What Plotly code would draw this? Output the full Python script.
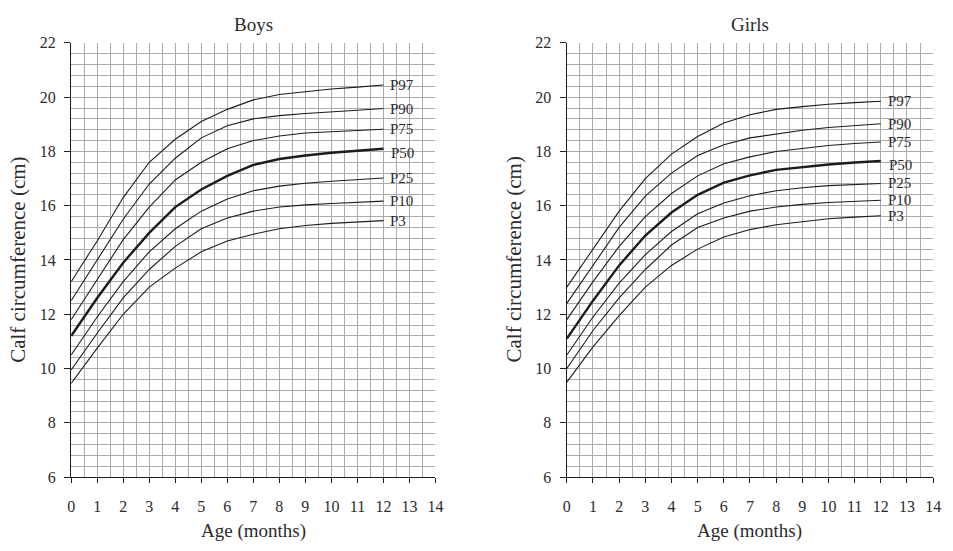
import plotly.graph_objects as go

ages = [0, 1, 2, 3, 4, 5, 6, 7, 8, 9, 10, 11, 12]
percentiles = ["P97", "P90", "P75", "P50", "P25", "P10", "P3"]

boys_p97 = [13.2, 14.7, 16.3, 17.6, 18.45, 19.1, 19.55, 19.9, 20.1, 20.2, 20.3, 20.37, 20.45]
boys_p90 = [12.5, 14.0, 15.5, 16.8, 17.75, 18.5, 18.95, 19.2, 19.32, 19.4, 19.47, 19.52, 19.58]
boys_p75 = [11.8, 13.3, 14.75, 15.95, 16.95, 17.6, 18.1, 18.4, 18.57, 18.68, 18.73, 18.77, 18.82]
boys_p50 = [11.2, 12.6, 13.9, 15.0, 15.95, 16.6, 17.1, 17.5, 17.72, 17.85, 17.95, 18.02, 18.1]
boys_p25 = [10.5, 11.9, 13.2, 14.3, 15.15, 15.8, 16.25, 16.55, 16.72, 16.83, 16.9, 16.96, 17.02]
boys_p10 = [9.95, 11.3, 12.6, 13.65, 14.5, 15.15, 15.55, 15.8, 15.95, 16.03, 16.08, 16.12, 16.17]
boys_p3 = [9.45, 10.75, 12.0, 13.0, 13.7, 14.3, 14.7, 14.95, 15.15, 15.27, 15.35, 15.4, 15.45]

girls_p97 = [13.0, 14.4, 15.8, 17.0, 17.9, 18.55, 19.05, 19.35, 19.55, 19.65, 19.74, 19.8, 19.85]
girls_p90 = [12.4, 13.8, 15.2, 16.35, 17.2, 17.85, 18.25, 18.5, 18.65, 18.78, 18.88, 18.95, 19.02]
girls_p75 = [11.8, 13.2, 14.5, 15.6, 16.45, 17.1, 17.55, 17.8, 18.0, 18.12, 18.22, 18.29, 18.35]
girls_p50 = [11.1, 12.5, 13.8, 14.9, 15.75, 16.4, 16.85, 17.12, 17.32, 17.43, 17.52, 17.59, 17.65]
girls_p25 = [10.5, 11.9, 13.15, 14.2, 15.05, 15.7, 16.1, 16.37, 16.55, 16.66, 16.74, 16.79, 16.82]
girls_p10 = [10.0, 11.4, 12.6, 13.65, 14.55, 15.2, 15.55, 15.8, 15.95, 16.05, 16.12, 16.17, 16.2]
girls_p3 = [9.5, 10.8, 11.95, 13.0, 13.8, 14.4, 14.85, 15.12, 15.3, 15.42, 15.52, 15.58, 15.63]

x_ticks = list(range(0, 15))
y_ticks = list(range(6, 23, 2))

boys = [boys_p97, boys_p90, boys_p75, boys_p50, boys_p25, boys_p10, boys_p3]
girls = [girls_p97, girls_p90, girls_p75, girls_p50, girls_p25, girls_p10, girls_p3]

FONT = "Liberation Serif"
TXT = "#2b2b2b"
LINE = "#1c1c1c"
GRID = "#ababab"

fig = go.Figure()
annotations = []
for axis_suffix, series in (("", boys), ("2", girls)):
    for name, vals in zip(percentiles, series):
        fig.add_trace(go.Scatter(
            x=ages, y=vals, mode="lines", name=name,
            xaxis="x" + axis_suffix, yaxis="y" + axis_suffix,
            line=dict(color=LINE, width=2.4 if name == "P50" else 1.1),
            showlegend=False, hoverinfo="skip"))
        annotations.append(dict(
            x=ages[-1], y=vals[-1], xref="x" + axis_suffix, yref="y" + axis_suffix,
            text=name, showarrow=False, xanchor="left", yanchor="middle",
            xshift=6 if name == "P50" else 5, yshift=-4 if name == "P50" else 0,
            font=dict(family=FONT, size=15, color=TXT)))

W, H = 953, 551
boys_dom = [68 / W, 437 / W]
girls_dom = [570 / W, 941 / W]
y_dom = [1 - 484 / H, 1 - 36 / H]

def xax(dom, anchor):
    return dict(domain=dom, anchor=anchor, range=[0, 14], tickmode="array",
                tickvals=x_ticks, ticktext=[str(t) for t in x_ticks],
                ticks="outside", ticklen=5, tickwidth=1, tickcolor=LINE,
                ticklabelstandoff=9,
                showline=True, linecolor=LINE, linewidth=1.3,
                showgrid=True, gridcolor=GRID, gridwidth=1,
                minor=dict(dtick=0.5, tick0=0, showgrid=True, gridcolor=GRID,
                           gridwidth=1, ticks=""),
                zeroline=False, fixedrange=True,
                tickfont=dict(family=FONT, size=16, color=TXT))

def yax(anchor):
    return dict(domain=y_dom, anchor=anchor, range=[6, 22], tickmode="array",
                tickvals=y_ticks, ticktext=[str(t) for t in y_ticks],
                ticks="outside", ticklen=6, tickwidth=1, tickcolor=LINE,
                ticklabelstandoff=5,
                showline=True, linecolor=LINE, linewidth=1.3,
                showgrid=True, gridcolor=GRID, gridwidth=1,
                minor=dict(dtick=0.4, tick0=6, showgrid=True, gridcolor=GRID,
                           gridwidth=1, ticks=""),
                zeroline=False, fixedrange=True,
                tickfont=dict(family=FONT, size=16, color=TXT))

for title, dom in (("Boys", boys_dom), ("Girls", girls_dom)):
    cx = (dom[0] + dom[1]) / 2
    annotations.append(dict(x=cx, y=1 - 17 / H, xref="paper", yref="paper",
                            text=title, showarrow=False, xanchor="center",
                            yanchor="middle",
                            font=dict(family=FONT, size=19, color=TXT)))
    annotations.append(dict(x=cx, y=1 - 540 / H, xref="paper", yref="paper",
                            text="Age (months)", showarrow=False,
                            xanchor="center", yanchor="middle",
                            font=dict(family=FONT, size=19, color=TXT)))
    annotations.append(dict(x=dom[0] - 54 / W, y=(y_dom[0] + y_dom[1]) / 2,
                            xref="paper", yref="paper",
                            text="Calf circumference (cm)", showarrow=False,
                            textangle=-90, xanchor="center", yanchor="middle",
                            font=dict(family=FONT, size=21, color=TXT)))

fig.update_layout(
    width=W, height=H,
    margin=dict(l=0, r=0, t=0, b=0),
    paper_bgcolor="white", plot_bgcolor="white",
    xaxis=xax(boys_dom, "y"), yaxis=yax("x"),
    xaxis2=xax(girls_dom, "y2"), yaxis2=yax("x2"),
    annotations=annotations,
    showlegend=False,
)

fig.write_html("out.html",
               config={"displayModeBar": False, "staticPlot": True},
               post_script="document.body.style.margin='0';document.body.style.overflow='hidden';")
